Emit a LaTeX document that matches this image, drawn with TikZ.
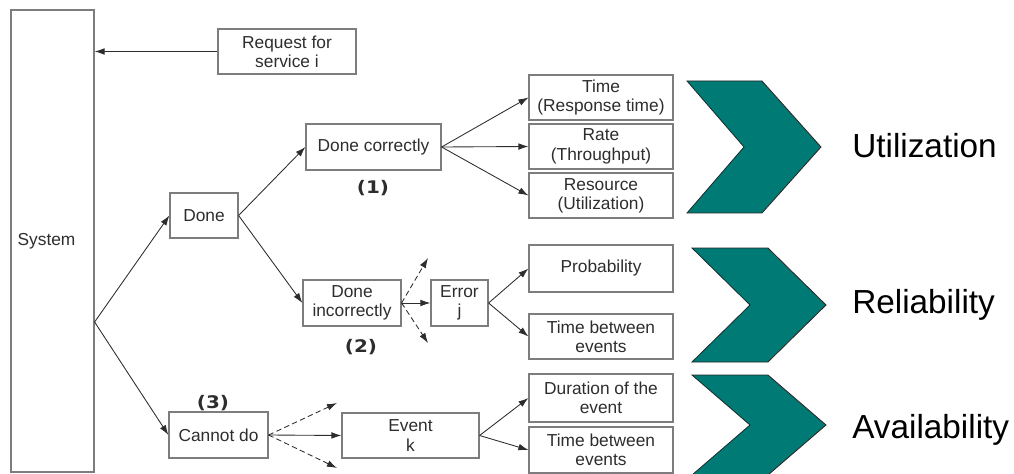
\documentclass[tikz,border=0pt]{standalone}
\usepackage{fontspec}
\setmainfont{Liberation Sans}
\newfontfamily\numfont{DejaVu Sans}[FakeStretch=1.15]
\usetikzlibrary{arrows.meta}
\definecolor{chevfill}{RGB}{0,122,116}
\definecolor{boxline}{RGB}{125,125,125}
\definecolor{ink}{RGB}{45,45,45}
\begin{document}
\begin{tikzpicture}[x=0.75pt,y=-0.75pt,
  box/.style={draw=boxline, line width=0.9pt, inner sep=0pt, align=center,
    font=\fontsize{13}{14.5}\selectfont, text=ink},
  sz/.style 2 args={minimum width=#1*0.75pt, minimum height=#2*0.75pt},
  arr/.style={draw=ink, line width=0.65pt, -{Latex[length=7.5pt,width=5pt]}},
  darr/.style={arr, dashed, dash pattern=on 4pt off 2.5pt},
  chev/.style={fill=chevfill, draw=black!85, line width=0.6pt},
  big/.style={font=\fontsize{25}{28}\selectfont, text=black, anchor=base west, inner sep=0pt},
  num/.style={font=\numfont\bfseries\fontsize{13}{16}\selectfont, text=ink, inner sep=0pt}
]
\useasboundingbox (0,0) rectangle (1014,474);

% boxes
\node[box, sz={83}{462}, label={[font=\fontsize{13}{14.5}\selectfont, text=ink, xshift=-4.5pt]center:System}] (sys) at (52.5,241) {};
\node[box, sz={138}{45}] (req) at (287,51.5) {Request for\\service i};
\node[box, sz={68}{45}] (done) at (204,215.5) {Done};
\node[box, sz={135}{46}] (dc) at (373.5,147) {Done correctly};
\node[box, sz={98}{46}] (di) at (352,303) {Done\\incorrectly};
\node[box, sz={57}{46}] (err) at (459.5,303) {Error\\j};
\node[box, sz={99}{46}] (cd) at (218.5,435) {Cannot do};
\node[box, sz={137}{45}] (ev) at (410.5,435.5) {Event\\k};

\node[box, sz={144}{45}] (t1) at (601,97.5) {Time\\(Response time)};
\node[box, sz={144}{45}] (t2) at (601,146.5) {Rate\\(Throughput)};
\node[box, sz={144}{45}] (t3) at (601,195.5) {Resource\\(Utilization)};
\node[box, sz={144}{47}] (pr) at (601,268.5) {Probability};
\node[box, sz={144}{45}] (tb1) at (601,336.5) {Time between\\events};
\node[box, sz={144}{48}] (du) at (601,398) {Duration of the\\event};
\node[box, sz={144}{46}] (tb2) at (601,450) {Time between\\events};

% case numbers
\node[num] (n1) at (373,188) {(1)};
\node[num] (n2) at (361,347) {(2)};
\node[num] (n3) at (213,403) {(3)};

% connectors
\coordinate (sysout) at ([yshift=-60.75pt]sys.east);
\draw[arr] (req.west) -- (req.west -| sys.east);
\draw[arr] (sysout) -- (done.west);
\draw[arr] (sysout) -- (cd.west);
\draw[arr] (done.east) -- (dc.west);
\draw[arr] (done.east) -- (di.west);
\draw[arr] (dc.east) -- (t1.west);
\draw[arr] (dc.east) -- (t2.west);
\draw[arr] (dc.east) -- (t3.west);
\draw[arr] (di.east) -- (err.west);
\draw[arr] (err.east) -- (pr.west);
\draw[arr] (err.east) -- (tb1.west);
\draw[arr] (cd.east) -- (ev.west);
\draw[arr] (ev.east) -- (du.west);
\draw[arr] (ev.east) -- (tb2.west);

\coordinate (diup) at (428,258);
\coordinate (didn) at (428,343);
\coordinate (cdup) at (337,403);
\coordinate (cddn) at (337,468);
\draw[darr] (di.east) -- (diup);
\draw[darr] (di.east) -- (didn);
\draw[darr] (cd.east) -- (cdup);
\draw[darr] (cd.east) -- (cddn);

% chevrons
\draw[chev] (687,81) -- (762,81) -- (821,147) -- (762,213) -- (687,213) -- (744,147) -- cycle;
\draw[chev] (692,248) -- (768,248) -- (826,305) -- (768,362) -- (692,362) -- (750,305) -- cycle;
\draw[chev] (692,375) -- (768,375) -- (826,425) -- (768,475) -- (692,475) -- (750,425) -- cycle;

% quality attributes
\node[big] (util) at (852,157.5) {Utilization};
\node[big] (rel) at (852,313.5) {Reliability};
\node[big] (avail) at (852,438.5) {Availability};
\end{tikzpicture}
\end{document}
